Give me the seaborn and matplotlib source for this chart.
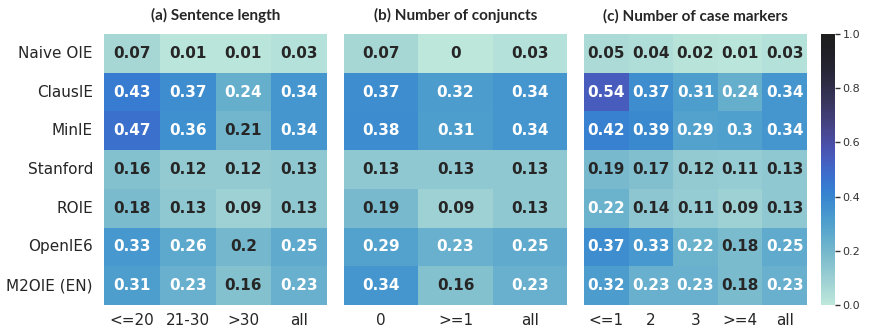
import numpy as np
import pandas as pd
import matplotlib
matplotlib.use("Agg")
import matplotlib.pyplot as plt
import seaborn as sns

systems = ["Naive OIE", "ClausIE", "MinIE", "Stanford", "ROIE", "OpenIE6", "M2OIE (EN)"]

len_cols = ["<=20", "21-30", ">30", "all"]
len_vals = [
    [0.07, 0.01, 0.01, 0.03],
    [0.43, 0.37, 0.24, 0.34],
    [0.47, 0.36, 0.21, 0.34],
    [0.16, 0.12, 0.12, 0.13],
    [0.18, 0.13, 0.09, 0.13],
    [0.33, 0.26, 0.20, 0.25],
    [0.31, 0.23, 0.16, 0.23],
]

conj_cols = ["0", ">=1", "all"]
conj_vals = [
    [0.07, 0.00, 0.03],
    [0.37, 0.32, 0.34],
    [0.38, 0.31, 0.34],
    [0.13, 0.13, 0.13],
    [0.19, 0.09, 0.13],
    [0.29, 0.23, 0.25],
    [0.34, 0.16, 0.23],
]

case_cols = ["<=1", "2", "3", ">=4", "all"]
case_vals = [
    [0.05, 0.04, 0.02, 0.01, 0.03],
    [0.54, 0.37, 0.31, 0.24, 0.34],
    [0.42, 0.39, 0.29, 0.30, 0.34],
    [0.19, 0.17, 0.12, 0.11, 0.13],
    [0.22, 0.14, 0.11, 0.09, 0.13],
    [0.37, 0.33, 0.22, 0.18, 0.25],
    [0.32, 0.23, 0.23, 0.18, 0.23],
]

titles = ["(a) Sentence length", "(b) Number of conjuncts", "(c) Number of case markers"]

sns.set_style("white")
plt.rcParams["font.family"] = "sans-serif"
plt.rcParams["font.sans-serif"] = ["DejaVu Sans"]

fig = plt.figure(figsize=(8.69, 3.34), dpi=100)
W, H = 869.0, 334.0
top, bottom = 34, 305
lefts = [104, 344, 584]
width = 223
axes = [fig.add_axes([l / W, 1 - bottom / H, width / W, (bottom - top) / H]) for l in lefts]
cax = fig.add_axes([821 / W, 1 - bottom / H, 14 / W, (bottom - top) / H])

datasets = [
    pd.DataFrame(len_vals, index=systems, columns=len_cols),
    pd.DataFrame(conj_vals, index=systems, columns=conj_cols),
    pd.DataFrame(case_vals, index=systems, columns=case_cols),
]

for i, (ax, df, title) in enumerate(zip(axes, datasets, titles)):
    last = i == 2
    sns.heatmap(df, ax=ax, cmap="icefire", center=1, vmin=0, vmax=1,
                annot=True, annot_kws={"size": 11, "weight": "bold", "family": "DejaVu Sans"},
                cbar=last, cbar_ax=cax if last else None)
    ax.set_title(title, fontsize=11, fontweight="bold", family="Lato", pad=10)
    ax.tick_params(axis="x", length=0, labelsize=11, pad=6, rotation=0)
    ax.tick_params(axis="y", length=0, labelsize=11, pad=8, rotation=0)
    for lab in ax.get_xticklabels() + ax.get_yticklabels():
        lab.set_family("DejaVu Sans")
    if i > 0:
        ax.set_yticklabels([])
    ax.set_xlabel("")
    ax.set_ylabel("")

cax.tick_params(axis="y", length=3.5, width=1, labelsize=8, pad=2, colors="#333333", right=True)
cax.set_yticks([0, 0.2, 0.4, 0.6, 0.8, 1.0])
for lab in cax.get_yticklabels():
    lab.set_family("DejaVu Sans")

fig.savefig("out.png", dpi=100)
